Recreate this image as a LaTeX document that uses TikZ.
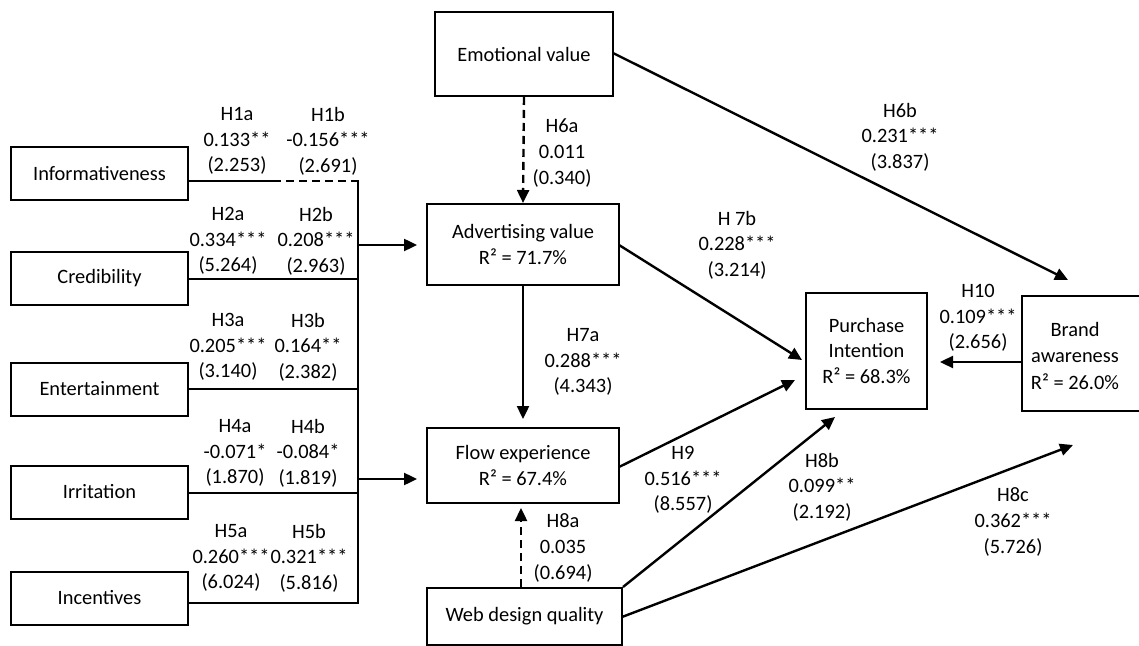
\documentclass[tikz,border=0pt]{standalone}
\usepackage{fontspec}
\setmainfont{Carlito}
\usetikzlibrary{arrows.meta}
\begin{document}
\begin{tikzpicture}[x=0.5pt,y=-0.5pt,
  box/.style={draw, line width=1pt, inner sep=0pt, align=center, font=\fontsize{10.2}{12.8}\selectfont},
  lab/.style={inner sep=0pt, align=center, font=\fontsize{10.2}{12.8}\selectfont},
  conn/.style={line width=1.2pt},
  arr/.style={conn, -{Triangle[length=6.5pt,width=6pt]}},
  dashline/.style={dash pattern=on 4pt off 2.5pt}]
\useasboundingbox (0,0) rectangle (1139,646);
% left boxes
\node[box, minimum width=88.5pt, minimum height=26.5pt] (inf) at (99.5,173.5) {Informativeness};
\node[box, minimum width=88.5pt, minimum height=26.5pt] (cred) at (99.5,278.5) {Credibility};
\node[box, minimum width=88.5pt, minimum height=26.5pt] (ent) at (99.5,389) {Entertainment};
\node[box, minimum width=88.5pt, minimum height=26.5pt] (irr) at (99.5,492) {Irritation};
\node[box, minimum width=88.5pt, minimum height=26.5pt] (inc) at (99.5,598) {Incentives};
% middle boxes
\node[box, minimum width=89pt, minimum height=42pt] (emo) at (524,54) {Emotional value};
\node[box, minimum width=96pt, minimum height=40.5pt] (adv) at (523,244.5) {Advertising value\\R² = 71.7\%};
\node[box, minimum width=96pt, minimum height=37.5pt] (flow) at (523,465.5) {Flow experience\\R² = 67.4\%};
\node[box, minimum width=97.5pt, minimum height=28.5pt] (web) at (524.5,616.5) {Web design quality};
% right boxes
\node[box, minimum width=60.5pt, minimum height=58pt] (pi) at (866.5,351) {Purchase\\Intention\\R² = 68.3\%};
\node[box, minimum width=69pt, minimum height=57.5pt] (ba) at (1091,353.5) {};
\node[lab, font=\fontsize{10.2}{13.2}\selectfont] (batext) at (1075,356) {Brand\\awareness\\R² = 26.0\%};
% bus coordinates
\coordinate (b1) at (358,181);
\coordinate (d1) at (273,181);
\coordinate (b2) at (358,279);
\coordinate (b3) at (358,389);
\coordinate (b4) at (358,493);
\coordinate (b5) at (358,603);
\coordinate (ba1) at (358,245);
\coordinate (fa1) at (358,479);
% bus lines
\draw[conn] (inf.east |- b1) -- (d1);
\draw[conn, dashline] (d1) -- (b1);
\draw[conn] (cred.east |- b2) -- (b2);
\draw[conn] (ent.east |- b3) -- (b3);
\draw[conn] (irr.east |- b4) -- (b4);
\draw[conn] (inc.east |- b5) -- (b5);
\draw[conn, line cap=rect] (b1) -- (b5);
\draw[arr, shorten >=4.5pt] (ba1) -- (adv.west |- ba1);
\draw[arr, shorten >=4.5pt] (fa1) -- (flow.west |- fa1);
% other connectors
\coordinate (h6b) at (1068,280);
\coordinate (h7b) at (802,360);
\coordinate (h9) at (795,380);
\coordinate (h8b) at (835,417);
\coordinate (h8c) at (1073,445);
\coordinate (wb8c) at (622,617);
\coordinate (e6b) at (613,53);
\coordinate (a7b) at (619,245);
\coordinate (f9) at (619,467);
\coordinate (ba10) at (1022,362);
\draw[arr, dashline] (emo.south) -- (adv.north);
\draw[arr, shorten >=4pt] (adv.south) -- (flow.north);
\draw[arr, dashline, shorten >=2pt] (web.north -| 521,0) -- (flow.south -| 521,0);
\draw[arr] (e6b) -- (h6b);
\draw[arr] (a7b) -- (h7b);
\draw[arr] (f9) -- (h9);
\draw[arr] (web.north east) -- (h8b);
\draw[arr] (wb8c) -- (h8c);
\draw[arr, shorten >=6pt] (ba10) -- (pi.east |- ba10);
% labels
\node[lab] (l1a) at (237,141) {H1a\\0.133**\\(2.253)};
\node[lab] (l1b) at (328,141) {H1b\\-0.156***\\(2.691)};
\node[lab] (l2a) at (228,241) {H2a\\0.334***\\(5.264)};
\node[lab] (l2b) at (316,241) {H2b\\0.208***\\(2.963)};
\node[lab] (l3a) at (228,347) {H3a\\0.205***\\(3.140)};
\node[lab] (l3b) at (308,347) {H3b\\0.164**\\(2.382)};
\node[lab] (l4a) at (235,453) {H4a\\-0.071*\\(1.870)};
\node[lab] (l4b) at (308,453) {H4b\\-0.084*\\(1.819)};
\node[lab] (l5a) at (231,558) {H5a\\0.260***\\(6.024)};
\node[lab] (l5b) at (309,558) {H5b\\0.321***\\(5.816)};
\node[lab] (l6a) at (562,153) {H6a\\0.011\\(0.340)};
\node[lab] (l6b) at (900,137) {H6b\\0.231***\\(3.837)};
\node[lab] (l7b) at (737,245) {H 7b\\0.228***\\(3.214)};
\node[lab] (l7a) at (583,362) {H7a\\0.288***\\(4.343)};
\node[lab] (l9) at (683,480) {H9\\0.516***\\(8.557)};
\node[lab] (l8a) at (563,548) {H8a\\0.035\\(0.694)};
\node[lab] (l8b) at (822,487) {H8b\\0.099**\\(2.192)};
\node[lab] (l8c) at (1013,522) {H8c\\0.362***\\(5.726)};
\node[lab] (l10) at (978,318) {H10\\0.109***\\(2.656)};
\end{tikzpicture}
\end{document}
